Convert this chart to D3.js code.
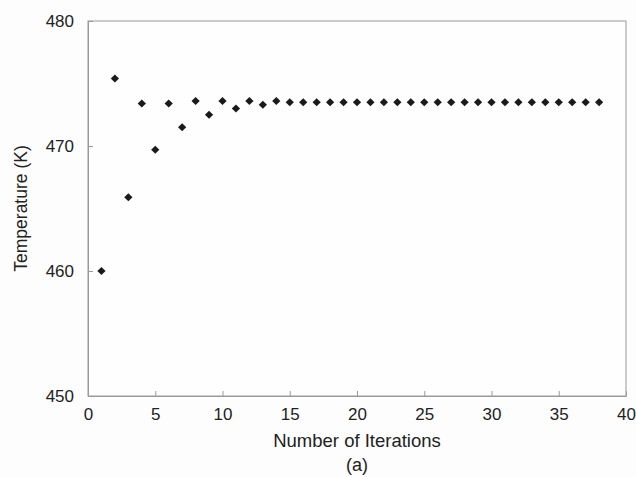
<!DOCTYPE html>
<html>
<head>
<meta charset="utf-8">
<script src="https://cdn.jsdelivr.net/npm/d3@7/dist/d3.min.js"></script>
<style>
  html, body { margin: 0; padding: 0; background: #fdfdfd; }
  svg { display: block; font-family: "Liberation Sans", Arial, Helvetica, sans-serif; }
</style>
</head>
<body>
<svg id="chart" width="636" height="477"></svg>
<script>
// Iteration number and computed temperature (K)
const iterations = d3.range(1, 39);
const temperatures = [
  460.0, 475.4, 465.9, 473.4, 469.7, 473.4, 471.5, 473.6, 472.5, 473.6,
  473.0, 473.6, 473.3, 473.6, 473.5, 473.5, 473.5, 473.5, 473.5, 473.5,
  473.5, 473.5, 473.5, 473.5, 473.5, 473.5, 473.5, 473.5, 473.5, 473.5,
  473.5, 473.5, 473.5, 473.5, 473.5, 473.5, 473.5, 473.5
];
const xTicks = [0, 5, 10, 15, 20, 25, 30, 35, 40];
const yTicks = [450, 460, 470, 480];

const svg = d3.select("#chart");
const margin = { left: 88, right: 10, top: 21, bottom: 81 };
const W = 636, H = 477;
const innerW = W - margin.left - margin.right;
const innerH = H - margin.top - margin.bottom;

const x = d3.scaleLinear().domain([0, 40]).range([margin.left, margin.left + innerW]);
const y = d3.scaleLinear().domain([450, 480]).range([margin.top + innerH, margin.top]);

const axisColor = "#9a9a9a";

// plot frame
svg.append("rect")
  .attr("x", x(0)).attr("y", y(480))
  .attr("width", x(40) - x(0)).attr("height", y(450) - y(480))
  .attr("fill", "#fefefe")
  .attr("stroke", axisColor).attr("stroke-width", 1);

// x axis with inward ticks
const gx = svg.append("g")
  .attr("transform", `translate(0,${y(450)})`)
  .call(d3.axisBottom(x).tickValues(xTicks).tickSizeInner(-5).tickSizeOuter(0).tickPadding(12));
gx.select(".domain").attr("stroke", axisColor);
gx.selectAll(".tick line").attr("stroke", axisColor);
gx.selectAll(".tick text").attr("fill", "#222").attr("font-size", 17);

// y axis with inward ticks
const gy = svg.append("g")
  .attr("transform", `translate(${x(0)},0)`)
  .call(d3.axisLeft(y).tickValues(yTicks).tickSizeInner(-5).tickSizeOuter(0).tickPadding(14));
gy.select(".domain").attr("stroke", axisColor);
gy.selectAll(".tick line").attr("stroke", axisColor);
gy.selectAll(".tick text").attr("fill", "#222").attr("font-size", 17);

// data markers
const diamond = d3.symbol().type(d3.symbolSquare).size(34);
svg.append("g")
  .selectAll("path")
  .data(iterations.map((it, i) => ({ it, t: temperatures[i] })))
  .join("path")
  .attr("d", diamond)
  .attr("transform", d => `translate(${x(d.it)},${y(d.t)}) rotate(45)`)
  .attr("fill", "#1a1a1a");

// axis titles
svg.append("text")
  .attr("x", (x(0) + x(40)) / 2).attr("y", 447)
  .attr("text-anchor", "middle").attr("font-size", 18.5).attr("fill", "#222")
  .text("Number of Iterations");

svg.append("text")
  .attr("x", (x(0) + x(40)) / 2).attr("y", 471)
  .attr("text-anchor", "middle").attr("font-size", 18).attr("fill", "#222")
  .text("(a)");

svg.append("text")
  .attr("transform", `translate(27,${(y(450) + y(480)) / 2}) rotate(-90)`)
  .attr("text-anchor", "middle").attr("font-size", 17.5).attr("fill", "#222")
  .text("Temperature (K)");
</script>
</body>
</html>
